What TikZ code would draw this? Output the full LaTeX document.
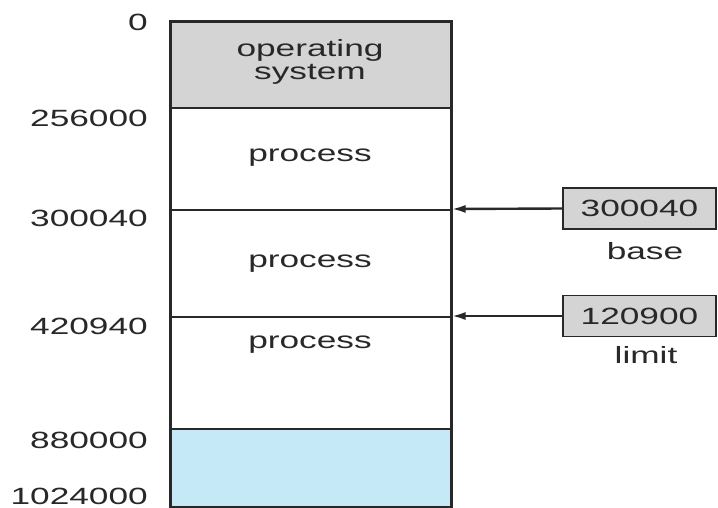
\documentclass[tikz,border=0pt]{standalone}
\usepackage{fontspec}
\setmainfont[FakeStretch=1.5]{Liberation Sans}
\usetikzlibrary{arrows.meta}
\definecolor{osgray}{RGB}{212,212,212}
\definecolor{freeblue}{RGB}{198,233,248}
\definecolor{inkgray}{RGB}{40,40,40}

\begin{document}
\begin{tikzpicture}[x=1pt,y=1pt,
    every node/.style={text=inkgray, font=\fontsize{23.5}{27}\selectfont},
    seg/.style={draw=inkgray, line width=1.6pt, minimum width=280pt, inner sep=0pt, anchor=north west},
    addr/.style={anchor=east, inner sep=0pt},
    reg/.style={draw=inkgray, fill=osgray, line width=1.6pt, minimum width=153pt, minimum height=41pt, inner sep=0pt},
    ptr/.style={draw=inkgray, line width=2.4pt, -{Latex[length=14pt,width=8pt]}}]

    \useasboundingbox (0,0) rectangle (718,-508);

    \node[seg, fill=osgray, minimum height=86pt] (os) at (170,-21) {};
    \node[seg, minimum height=102pt] (p1) at (170,-107) {};
    \node[seg, minimum height=107pt] (p2) at (170,-209) {};
    \node[seg, minimum height=112pt] (p3) at (170,-316) {};
    \node[seg, fill=freeblue, minimum height=78pt] (free) at (170,-428) {};
    \draw[draw=inkgray, line width=2pt] (os.north west) rectangle (free.south east);

    \node[align=center, inner sep=0pt] (ostext) at (310,-62) {operating\\[-4pt]system};
    \node (p1text) at (310,-158) {process};
    \node (p2text) at (310,-264) {process};
    \node (p3text) at (310,-345) {process};

    \node[addr] (a0) at (148,-22) {0};
    \node[addr] (a1) at (148,-118) {256000};
    \node[addr] (a2) at (148,-218) {300040};
    \node[addr] (a3) at (148,-326) {420940};
    \node[addr] (a4) at (148,-440) {880000};
    \node[addr] (a5) at (148,-496) {1024000};

    \node[reg] (basereg) at (639.5,-208.5) {300040};
    \node (baselabel) at (645,-251) {base};
    \node[reg] (limitreg) at (639.5,-316) {120900};
    \node (limitlabel) at (646,-355) {limit};

    \draw[ptr] (basereg.west) -- (p2.north east);
    \draw[ptr] (limitreg.west) -- (p3.north east);

\end{tikzpicture}
\end{document}
